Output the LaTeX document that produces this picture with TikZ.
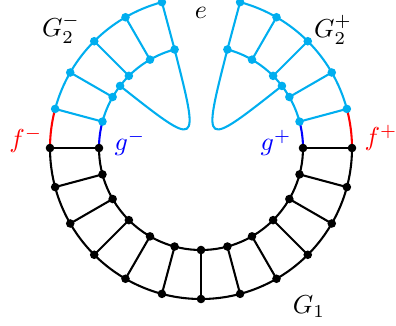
\documentclass[tikz,border=0pt]{standalone}
\definecolor{gcyan}{RGB}{0,174,239}
\tikzset{
  edge/.style={line width=0.8pt},
  bdot/.style={circle, fill=black, inner sep=0pt, minimum size=3.3pt},
  cdot/.style={circle, fill=gcyan, inner sep=0pt, minimum size=3.3pt},
  lbl/.style={inner sep=0pt, anchor=center}
}
\begin{document}
\begin{tikzpicture}[x=0.385pt,y=0.385pt]
\useasboundingbox (0,0) rectangle (396,-326);
\begin{scope}[shift={(201,-148)}]
\def\Ro{151}
\def\Ri{102}
% black ring coordinates
\foreach \k in {0,...,12}{
  \pgfmathsetmacro\a{180+15*\k}
  \coordinate (o\k) at (\a:\Ro);
  \coordinate (i\k) at (\a:\Ri);
}
% cyan coordinates
\foreach \k in {1,...,5}{
  \pgfmathsetmacro\a{180-15*\k}
  \pgfmathsetmacro\b{15*\k}
  \coordinate (lo\k) at (\a:\Ro);
  \coordinate (li\k) at (\a:\Ri);
  \coordinate (ro\k) at (\b:\Ro);
  \coordinate (ri\k) at (\b:\Ri);
}
\coordinate (lm) at (142.5:\Ri);
\coordinate (rm) at (37.5:\Ri);
% black arcs and rungs
\draw[edge] (o0) arc[start angle=180,end angle=360,radius=\Ro];
\draw[edge] (i0) arc[start angle=180,end angle=360,radius=\Ri];
\foreach \k in {0,...,12}{ \draw[edge] (o\k) -- (i\k); }
% red and blue arcs
\draw[edge,red] (o0) arc[start angle=180,end angle=165,radius=\Ro];
\draw[edge,red] (o12) arc[start angle=0,end angle=15,radius=\Ro];
\draw[edge,blue] (i0) arc[start angle=180,end angle=165,radius=\Ri];
\draw[edge,blue] (i12) arc[start angle=0,end angle=15,radius=\Ri];
% cyan arcs
\draw[edge,gcyan] (lo1) arc[start angle=165,end angle=105,radius=\Ro];
\draw[edge,gcyan] (li1) arc[start angle=165,end angle=105,radius=\Ri];
\draw[edge,gcyan] (ro1) arc[start angle=15,end angle=75,radius=\Ro];
\draw[edge,gcyan] (ri1) arc[start angle=15,end angle=75,radius=\Ri];
\foreach \k in {1,...,5}{
  \draw[edge,gcyan] (lo\k) -- (li\k);
  \draw[edge,gcyan] (ro\k) -- (ri\k);
}
% loops
\draw[edge,gcyan] (lm) .. controls (-1,-1) and (-1,-1) .. (li5);
\draw[edge,gcyan] (rm) .. controls (1,-1) and (1,-1) .. (ri5);
% dots
\foreach \k in {0,...,12}{
  \node[bdot] (bo\k) at (o\k) {};
  \node[bdot] (bi\k) at (i\k) {};
}
\foreach \k in {1,...,5}{
  \node[cdot] (clo\k) at (lo\k) {};
  \node[cdot] (cli\k) at (li\k) {};
  \node[cdot] (cro\k) at (ro\k) {};
  \node[cdot] (cri\k) at (ri\k) {};
}
\node[cdot] (clm) at (lm) {};
\node[cdot] (crm) at (rm) {};
\end{scope}
% labels
\node[lbl] (lG2m) at (61,-29) {$G_2^-$};
\node[lbl] (le) at (201,-13) {$e$};
\node[lbl] (lG2p) at (333,-30) {$G_2^+$};
\node[lbl,red] (lfm) at (26,-140) {$f^-$};
\node[lbl,blue] (lgm) at (130,-143) {$g^-$};
\node[lbl,blue] (lgp) at (276,-143) {$g^+$};
\node[lbl,red] (lfp) at (381,-138) {$f^+$};
\node[lbl] (lG1) at (309,-307) {$G_1$};
\end{tikzpicture}
\end{document}
